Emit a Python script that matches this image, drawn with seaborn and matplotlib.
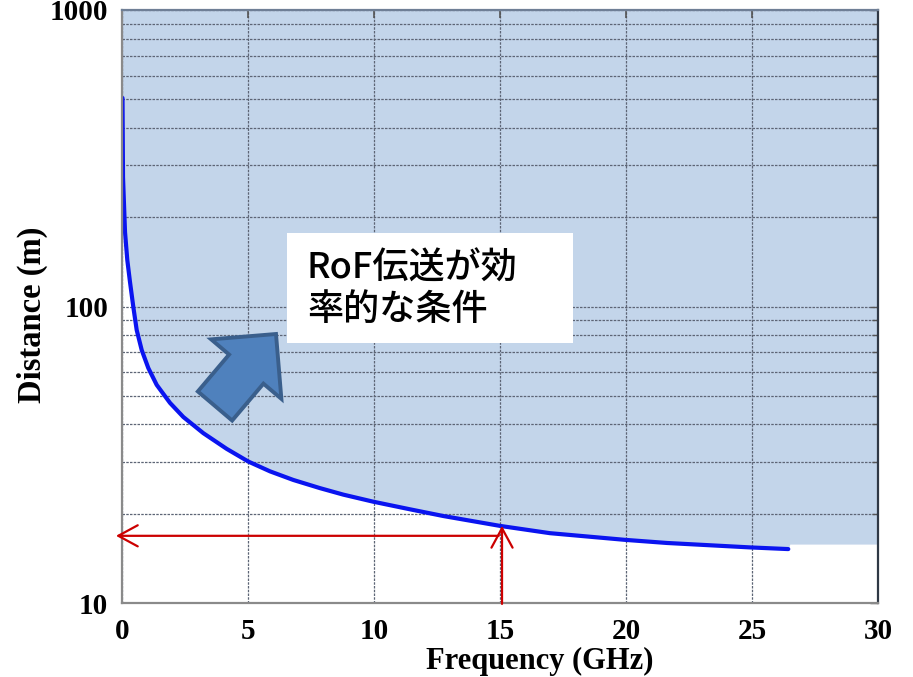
import matplotlib
matplotlib.use("Agg")
import matplotlib.pyplot as plt
from matplotlib.patches import FancyArrow, Rectangle
from matplotlib.ticker import LogLocator, FixedLocator, NullFormatter, FuncFormatter
import seaborn as sns
import pandas as pd

# Break-even distance vs. carrier frequency
freq_ghz = [0.02, 0.04, 0.12, 0.21, 0.317, 0.448, 0.583, 0.782, 1.044, 1.377,
            1.905, 2.433, 3.226, 4.155, 5.012, 5.873, 6.798, 7.857, 8.782,
            9.972, 11.43, 12.75, 15.0, 16.98, 19.96, 21.62, 24.92, 26.44]
distance_m = [505, 273, 178, 143.5, 121.0, 99.8, 83.3, 71.3, 62.0, 54.4,
              47.3, 42.4, 37.4, 33.1, 30.0, 27.8, 26.0, 24.4, 23.2,
              21.96, 20.7, 19.65, 18.2, 17.2, 16.33, 15.94, 15.4, 15.2]

# Upper edge of the shaded region continues flat past the last computed point
region_tail_freq = [26.5, 30.0]
region_tail_dist = [15.8, 15.8]

x_ticks = [0, 5, 10, 15, 20, 25, 30]
y_major = [10, 100, 1000]

# Example read-out at 15 GHz
marker_freq = 15.0
marker_curve_dist = 18.2
marker_level_dist = 16.85

sns.set_style("white")
plt.rcParams["font.family"] = ["Liberation Serif", "DejaVu Serif"]

fig = plt.figure(figsize=(9.13, 6.77), dpi=100)
ax = fig.add_axes([122 / 913, 1 - 603 / 677, 756 / 913, 593 / 677])

df = pd.DataFrame({"Frequency": freq_ghz, "Distance": distance_m})

# Shaded region: above the curve up to the top of the plot
fx = [0.0] + freq_ghz + region_tail_freq
fy = [distance_m[0]] + distance_m + region_tail_dist
ax.fill_between(fx, fy, 1000, color="#C3D5EA", lw=0, zorder=0.5)

sns.lineplot(data=df, x="Frequency", y="Distance", ax=ax, color="#0A14F0",
             lw=3.0, sort=False, estimator=None, zorder=3)

ax.set_yscale("log")
ax.set_xlim(0, 30)
ax.set_ylim(10, 1000)

ax.xaxis.set_major_locator(FixedLocator(x_ticks))
ax.yaxis.set_major_locator(FixedLocator(y_major))
ax.yaxis.set_minor_locator(LogLocator(base=10, subs=range(2, 10)))
ax.yaxis.set_minor_formatter(NullFormatter())
ax.yaxis.set_major_formatter(FuncFormatter(lambda v, p: f"{int(round(v))}"))

ax.grid(True, which="major", axis="x", color="#5d6575", lw=0.9, ls=(0, (2, 1)))
ax.grid(True, which="both", axis="y", color="#5d6575", lw=0.9, ls=(0, (2, 1)))
ax.set_axisbelow(False)

ax.tick_params(axis="both", which="both", direction="in", top=True, right=True,
               colors="#555555")
ax.tick_params(axis="y", which="minor", length=4, width=1)
ax.tick_params(axis="y", which="major", length=6, width=1, pad=10)
ax.tick_params(axis="x", which="major", length=6, width=1.2, pad=11)
for lab in ax.get_xticklabels() + ax.get_yticklabels():
    lab.set_fontsize(21)
    lab.set_fontweight("bold")
    lab.set_color("black")

ax.spines["left"].set_color("#8a8a8a")
ax.spines["bottom"].set_color("#8a8a8a")
ax.spines["top"].set_color("#6f7f96")
ax.spines["right"].set_color("#2f3845")
for s in ax.spines.values():
    s.set_linewidth(1.6)
    s.set_zorder(4)

ax.set_xlabel("Frequency (GHz)", fontsize=22, fontweight="bold", color="black")
ax.xaxis.set_label_coords(0.553, -0.098)
ax.xaxis.label.set_va("center")
ax.set_ylabel("Distance (m)", fontsize=23.5, fontweight="bold", color="black")
ax.yaxis.set_label_coords(-0.119, 0.486)
ax.yaxis.label.set_va("center")

# Red read-out arrows at 15 GHz
red = "#CC0000"
ax.annotate("", xy=(-0.24, marker_level_dist), xytext=(marker_freq - 0.05, marker_level_dist),
            arrowprops=dict(arrowstyle="->,head_length=0.7,head_width=0.38",
                            color=red, lw=1.6, shrinkA=0, shrinkB=0, mutation_scale=20),
            annotation_clip=False, zorder=6)
ax.annotate("", xy=(marker_freq + 0.08, marker_curve_dist), xytext=(marker_freq + 0.08, 9.93),
            arrowprops=dict(arrowstyle="->,head_length=0.7,head_width=0.38",
                            color=red, lw=1.6, shrinkA=0, shrinkB=0, mutation_scale=20),
            annotation_clip=False, zorder=6)

# Block arrow pointing into the shaded region
tr = fig.dpi_scale_trans
arrow = FancyArrow(2.15, 2.71, 0.61, 0.72, width=0.45, head_width=0.92,
                   head_length=0.46, length_includes_head=True,
                   facecolor="#4F81BD", edgecolor="#3A5F8C", lw=2.8,
                   transform=tr, zorder=7, clip_on=False)
ax.add_patch(arrow)

# Label box
box = Rectangle((2.87, 3.34), 2.86, 1.10, facecolor="white", edgecolor="none",
                transform=tr, zorder=7, clip_on=False)
ax.add_patch(box)
ax.text(3.07, 3.875, "RoF伝送が効\n率的な条件", transform=tr, ha="left", va="center",
        fontsize=26, fontweight="medium", family=["Noto Sans CJK JP", "DejaVu Sans"],
        color="black", linespacing=1.2, zorder=8)

fig.savefig("out.png", dpi=100)
